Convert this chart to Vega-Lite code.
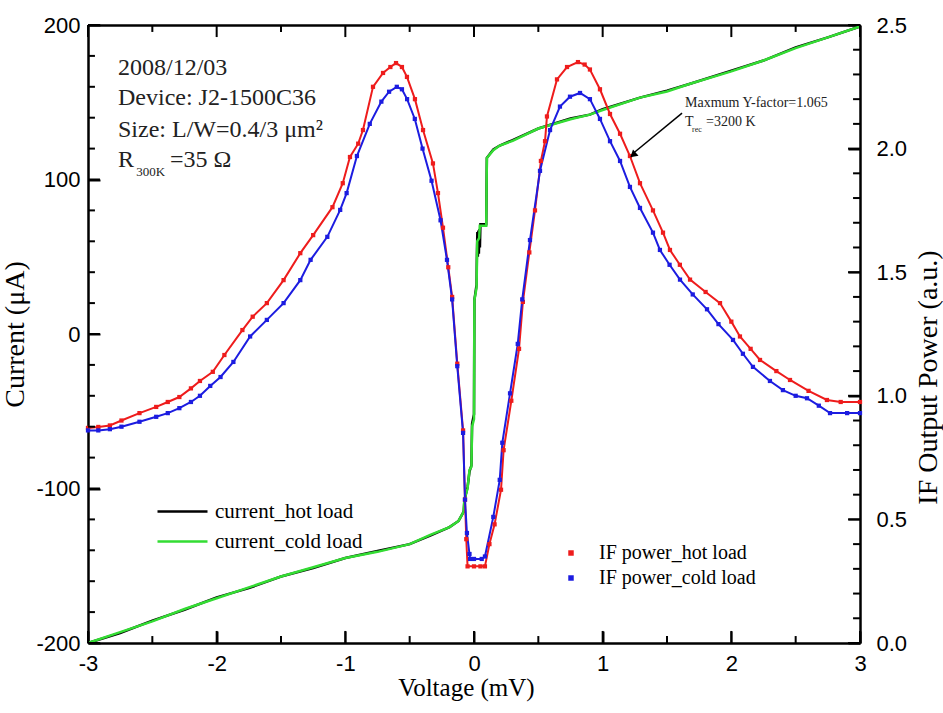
{
"$schema":"https://vega.github.io/schema/vega-lite/v6.json",
"width":772,"height":618,
"autosize":{"type":"none"},
"padding":{"left":88,"top":25,"right":83,"bottom":70},
"background":"white",
"config":{"view":{"stroke":null},
"axis":{"grid":false,"ticks":true,"domainColor":"black","domainWidth":2.5,"tickColor":"black","tickWidth":2,"labelFont":"Liberation Sans","labelFontSize":22,"labelColor":"black","labelFlush":false,"titleFont":"Liberation Serif","titleFontSize":26,"titleFontWeight":"normal","titleColor":"black"}},
"datasets":{
"iv":[
{"V":-3.0,"I":-200,"load":"current_hot load"},{"V":-2.75,"I":-193.5,"load":"current_hot load"},{"V":-2.5,"I":-185.5,"load":"current_hot load"},{"V":-2.25,"I":-178.5,"load":"current_hot load"},{"V":-2.0,"I":-170.5,"load":"current_hot load"},{"V":-1.75,"I":-164.5,"load":"current_hot load"},{"V":-1.5,"I":-157,"load":"current_hot load"},{"V":-1.25,"I":-151.5,"load":"current_hot load"},{"V":-1.0,"I":-145,"load":"current_hot load"},{"V":-0.75,"I":-140.5,"load":"current_hot load"},{"V":-0.5,"I":-136,"load":"current_hot load"},{"V":-0.34,"I":-130.5,"load":"current_hot load"},{"V":-0.19,"I":-125,"load":"current_hot load"},{"V":-0.12,"I":-121,"load":"current_hot load"},{"V":-0.08,"I":-115,"load":"current_hot load"},{"V":-0.075,"I":-108,"load":"current_hot load"},{"V":-0.05,"I":-99,"load":"current_hot load"},{"V":-0.035,"I":-89,"load":"current_hot load"},{"V":-0.02,"I":-85,"load":"current_hot load"},{"V":-0.015,"I":-58,"load":"current_hot load"},{"V":0.0,"I":-52,"load":"current_hot load"},{"V":0.003,"I":22,"load":"current_hot load"},{"V":0.02,"I":32,"load":"current_hot load"},{"V":0.022,"I":48,"load":"current_hot load"},{"V":0.026,"I":66,"load":"current_hot load"},{"V":0.03,"I":50,"load":"current_hot load"},{"V":0.034,"I":67,"load":"current_hot load"},{"V":0.038,"I":52,"load":"current_hot load"},{"V":0.042,"I":68,"load":"current_hot load"},{"V":0.046,"I":56,"load":"current_hot load"},{"V":0.05,"I":71,"load":"current_hot load"},{"V":0.095,"I":71,"load":"current_hot load"},{"V":0.1,"I":114,"load":"current_hot load"},{"V":0.15,"I":119.5,"load":"current_hot load"},{"V":0.2,"I":122,"load":"current_hot load"},{"V":0.3,"I":125.5,"load":"current_hot load"},{"V":0.5,"I":133,"load":"current_hot load"},{"V":0.75,"I":139.5,"load":"current_hot load"},{"V":0.9,"I":142,"load":"current_hot load"},{"V":1.0,"I":145.5,"load":"current_hot load"},{"V":1.29,"I":153,"load":"current_hot load"},{"V":1.5,"I":157.5,"load":"current_hot load"},{"V":1.68,"I":162,"load":"current_hot load"},{"V":2.0,"I":170.5,"load":"current_hot load"},{"V":2.25,"I":177,"load":"current_hot load"},{"V":2.5,"I":185.5,"load":"current_hot load"},{"V":2.75,"I":192,"load":"current_hot load"},{"V":3.0,"I":199,"load":"current_hot load"},
{"V":-3.0,"I":-200,"load":"current_cold load"},{"V":-2.75,"I":-193,"load":"current_cold load"},{"V":-2.5,"I":-186,"load":"current_cold load"},{"V":-2.25,"I":-178,"load":"current_cold load"},{"V":-2.0,"I":-171,"load":"current_cold load"},{"V":-1.75,"I":-164,"load":"current_cold load"},{"V":-1.5,"I":-157,"load":"current_cold load"},{"V":-1.25,"I":-151,"load":"current_cold load"},{"V":-1.0,"I":-145,"load":"current_cold load"},{"V":-0.75,"I":-141,"load":"current_cold load"},{"V":-0.5,"I":-136,"load":"current_cold load"},{"V":-0.34,"I":-130,"load":"current_cold load"},{"V":-0.19,"I":-125,"load":"current_cold load"},{"V":-0.12,"I":-121,"load":"current_cold load"},{"V":-0.08,"I":-115,"load":"current_cold load"},{"V":-0.075,"I":-107,"load":"current_cold load"},{"V":-0.05,"I":-100,"load":"current_cold load"},{"V":-0.035,"I":-88,"load":"current_cold load"},{"V":-0.02,"I":-86,"load":"current_cold load"},{"V":-0.015,"I":-60,"load":"current_cold load"},{"V":0.0,"I":-55,"load":"current_cold load"},{"V":0.003,"I":22,"load":"current_cold load"},{"V":0.02,"I":30,"load":"current_cold load"},{"V":0.025,"I":60,"load":"current_cold load"},{"V":0.04,"I":62,"load":"current_cold load"},{"V":0.045,"I":70,"load":"current_cold load"},{"V":0.095,"I":70,"load":"current_cold load"},{"V":0.1,"I":114,"load":"current_cold load"},{"V":0.15,"I":119,"load":"current_cold load"},{"V":0.2,"I":122,"load":"current_cold load"},{"V":0.3,"I":125,"load":"current_cold load"},{"V":0.5,"I":133,"load":"current_cold load"},{"V":0.75,"I":139,"load":"current_cold load"},{"V":0.9,"I":142,"load":"current_cold load"},{"V":1.0,"I":145,"load":"current_cold load"},{"V":1.29,"I":153,"load":"current_cold load"},{"V":1.5,"I":157,"load":"current_cold load"},{"V":1.68,"I":162,"load":"current_cold load"},{"V":2.0,"I":170,"load":"current_cold load"},{"V":2.25,"I":177,"load":"current_cold load"},{"V":2.5,"I":185,"load":"current_cold load"},{"V":2.75,"I":192,"load":"current_cold load"},{"V":3.0,"I":199,"load":"current_cold load"}
],
"pw":[
{"V":-3.0,"P":0.87,"load":"IF power_hot load"},{"V":-2.92,"P":0.874,"load":"IF power_hot load"},{"V":-2.83,"P":0.88,"load":"IF power_hot load"},{"V":-2.74,"P":0.9,"load":"IF power_hot load"},{"V":-2.6,"P":0.93,"load":"IF power_hot load"},{"V":-2.47,"P":0.955,"load":"IF power_hot load"},{"V":-2.38,"P":0.975,"load":"IF power_hot load"},{"V":-2.29,"P":0.995,"load":"IF power_hot load"},{"V":-2.2,"P":1.03,"load":"IF power_hot load"},{"V":-2.13,"P":1.06,"load":"IF power_hot load"},{"V":-2.03,"P":1.097,"load":"IF power_hot load"},{"V":-1.94,"P":1.165,"load":"IF power_hot load"},{"V":-1.8,"P":1.266,"load":"IF power_hot load"},{"V":-1.72,"P":1.32,"load":"IF power_hot load"},{"V":-1.61,"P":1.375,"load":"IF power_hot load"},{"V":-1.48,"P":1.468,"load":"IF power_hot load"},{"V":-1.35,"P":1.577,"load":"IF power_hot load"},{"V":-1.25,"P":1.65,"load":"IF power_hot load"},{"V":-1.1,"P":1.763,"load":"IF power_hot load"},{"V":-1.02,"P":1.86,"load":"IF power_hot load"},{"V":-0.964,"P":1.966,"load":"IF power_hot load"},{"V":-0.9,"P":2.02,"load":"IF power_hot load"},{"V":-0.863,"P":2.075,"load":"IF power_hot load"},{"V":-0.785,"P":2.25,"load":"IF power_hot load"},{"V":-0.707,"P":2.306,"load":"IF power_hot load"},{"V":-0.65,"P":2.33,"load":"IF power_hot load"},{"V":-0.606,"P":2.346,"load":"IF power_hot load"},{"V":-0.56,"P":2.33,"load":"IF power_hot load"},{"V":-0.521,"P":2.29,"load":"IF power_hot load"},{"V":-0.459,"P":2.2,"load":"IF power_hot load"},{"V":-0.396,"P":2.075,"load":"IF power_hot load"},{"V":-0.319,"P":1.94,"load":"IF power_hot load"},{"V":-0.28,"P":1.82,"load":"IF power_hot load"},{"V":-0.241,"P":1.68,"load":"IF power_hot load"},{"V":-0.2,"P":1.52,"load":"IF power_hot load"},{"V":-0.17,"P":1.4,"load":"IF power_hot load"},{"V":-0.13,"P":1.13,"load":"IF power_hot load"},{"V":-0.085,"P":0.86,"load":"IF power_hot load"},{"V":-0.07,"P":0.58,"load":"IF power_hot load"},{"V":-0.06,"P":0.42,"load":"IF power_hot load"},{"V":-0.05,"P":0.31,"load":"IF power_hot load"},{"V":0.0,"P":0.31,"load":"IF power_hot load"},{"V":0.05,"P":0.31,"load":"IF power_hot load"},{"V":0.085,"P":0.31,"load":"IF power_hot load"},{"V":0.12,"P":0.4,"load":"IF power_hot load"},{"V":0.16,"P":0.48,"load":"IF power_hot load"},{"V":0.21,"P":0.62,"load":"IF power_hot load"},{"V":0.23,"P":0.78,"load":"IF power_hot load"},{"V":0.29,"P":0.98,"load":"IF power_hot load"},{"V":0.35,"P":1.19,"load":"IF power_hot load"},{"V":0.38,"P":1.38,"load":"IF power_hot load"},{"V":0.43,"P":1.58,"load":"IF power_hot load"},{"V":0.474,"P":1.75,"load":"IF power_hot load"},{"V":0.52,"P":1.95,"load":"IF power_hot load"},{"V":0.552,"P":2.03,"load":"IF power_hot load"},{"V":0.567,"P":2.13,"load":"IF power_hot load"},{"V":0.645,"P":2.28,"load":"IF power_hot load"},{"V":0.723,"P":2.33,"load":"IF power_hot load"},{"V":0.808,"P":2.35,"load":"IF power_hot load"},{"V":0.86,"P":2.34,"load":"IF power_hot load"},{"V":0.901,"P":2.32,"load":"IF power_hot load"},{"V":0.979,"P":2.24,"load":"IF power_hot load"},{"V":1.057,"P":2.14,"load":"IF power_hot load"},{"V":1.135,"P":2.06,"load":"IF power_hot load"},{"V":1.212,"P":1.97,"load":"IF power_hot load"},{"V":1.29,"P":1.86,"load":"IF power_hot load"},{"V":1.391,"P":1.75,"load":"IF power_hot load"},{"V":1.469,"P":1.66,"load":"IF power_hot load"},{"V":1.523,"P":1.59,"load":"IF power_hot load"},{"V":1.6,"P":1.53,"load":"IF power_hot load"},{"V":1.679,"P":1.47,"load":"IF power_hot load"},{"V":1.8,"P":1.42,"load":"IF power_hot load"},{"V":1.912,"P":1.375,"load":"IF power_hot load"},{"V":2.0,"P":1.3,"load":"IF power_hot load"},{"V":2.067,"P":1.24,"load":"IF power_hot load"},{"V":2.15,"P":1.19,"load":"IF power_hot load"},{"V":2.223,"P":1.145,"load":"IF power_hot load"},{"V":2.35,"P":1.1,"load":"IF power_hot load"},{"V":2.456,"P":1.064,"load":"IF power_hot load"},{"V":2.6,"P":1.02,"load":"IF power_hot load"},{"V":2.743,"P":0.983,"load":"IF power_hot load"},{"V":2.85,"P":0.975,"load":"IF power_hot load"},{"V":3.0,"P":0.975,"load":"IF power_hot load"},
{"V":-3.0,"P":0.86,"load":"IF power_cold load"},{"V":-2.92,"P":0.86,"load":"IF power_cold load"},{"V":-2.83,"P":0.865,"load":"IF power_cold load"},{"V":-2.74,"P":0.875,"load":"IF power_cold load"},{"V":-2.6,"P":0.895,"load":"IF power_cold load"},{"V":-2.47,"P":0.915,"load":"IF power_cold load"},{"V":-2.38,"P":0.93,"load":"IF power_cold load"},{"V":-2.29,"P":0.95,"load":"IF power_cold load"},{"V":-2.2,"P":0.975,"load":"IF power_cold load"},{"V":-2.13,"P":1.0,"load":"IF power_cold load"},{"V":-2.05,"P":1.04,"load":"IF power_cold load"},{"V":-1.97,"P":1.076,"load":"IF power_cold load"},{"V":-1.87,"P":1.137,"load":"IF power_cold load"},{"V":-1.74,"P":1.24,"load":"IF power_cold load"},{"V":-1.61,"P":1.307,"load":"IF power_cold load"},{"V":-1.48,"P":1.375,"load":"IF power_cold load"},{"V":-1.35,"P":1.468,"load":"IF power_cold load"},{"V":-1.27,"P":1.55,"load":"IF power_cold load"},{"V":-1.14,"P":1.643,"load":"IF power_cold load"},{"V":-1.04,"P":1.752,"load":"IF power_cold load"},{"V":-0.99,"P":1.82,"load":"IF power_cold load"},{"V":-0.91,"P":1.97,"load":"IF power_cold load"},{"V":-0.81,"P":2.1,"load":"IF power_cold load"},{"V":-0.72,"P":2.19,"load":"IF power_cold load"},{"V":-0.66,"P":2.23,"load":"IF power_cold load"},{"V":-0.6,"P":2.25,"load":"IF power_cold load"},{"V":-0.56,"P":2.24,"load":"IF power_cold load"},{"V":-0.52,"P":2.2,"load":"IF power_cold load"},{"V":-0.46,"P":2.12,"load":"IF power_cold load"},{"V":-0.4,"P":2.0,"load":"IF power_cold load"},{"V":-0.33,"P":1.87,"load":"IF power_cold load"},{"V":-0.26,"P":1.71,"load":"IF power_cold load"},{"V":-0.21,"P":1.55,"load":"IF power_cold load"},{"V":-0.17,"P":1.39,"load":"IF power_cold load"},{"V":-0.13,"P":1.12,"load":"IF power_cold load"},{"V":-0.085,"P":0.85,"load":"IF power_cold load"},{"V":-0.07,"P":0.58,"load":"IF power_cold load"},{"V":-0.055,"P":0.445,"load":"IF power_cold load"},{"V":-0.035,"P":0.36,"load":"IF power_cold load"},{"V":-0.03,"P":0.34,"load":"IF power_cold load"},{"V":0.0,"P":0.34,"load":"IF power_cold load"},{"V":0.06,"P":0.34,"load":"IF power_cold load"},{"V":0.085,"P":0.35,"load":"IF power_cold load"},{"V":0.15,"P":0.51,"load":"IF power_cold load"},{"V":0.2,"P":0.66,"load":"IF power_cold load"},{"V":0.22,"P":0.81,"load":"IF power_cold load"},{"V":0.28,"P":1.01,"load":"IF power_cold load"},{"V":0.34,"P":1.21,"load":"IF power_cold load"},{"V":0.375,"P":1.39,"load":"IF power_cold load"},{"V":0.435,"P":1.63,"load":"IF power_cold load"},{"V":0.513,"P":1.91,"load":"IF power_cold load"},{"V":0.591,"P":2.075,"load":"IF power_cold load"},{"V":0.668,"P":2.17,"load":"IF power_cold load"},{"V":0.746,"P":2.21,"load":"IF power_cold load"},{"V":0.824,"P":2.225,"load":"IF power_cold load"},{"V":0.901,"P":2.2,"load":"IF power_cold load"},{"V":0.979,"P":2.12,"load":"IF power_cold load"},{"V":1.057,"P":2.03,"load":"IF power_cold load"},{"V":1.135,"P":1.95,"load":"IF power_cold load"},{"V":1.212,"P":1.845,"load":"IF power_cold load"},{"V":1.29,"P":1.76,"load":"IF power_cold load"},{"V":1.391,"P":1.66,"load":"IF power_cold load"},{"V":1.445,"P":1.59,"load":"IF power_cold load"},{"V":1.52,"P":1.53,"load":"IF power_cold load"},{"V":1.601,"P":1.47,"load":"IF power_cold load"},{"V":1.7,"P":1.41,"load":"IF power_cold load"},{"V":1.811,"P":1.35,"load":"IF power_cold load"},{"V":1.9,"P":1.29,"load":"IF power_cold load"},{"V":2.013,"P":1.226,"load":"IF power_cold load"},{"V":2.09,"P":1.17,"load":"IF power_cold load"},{"V":2.168,"P":1.117,"load":"IF power_cold load"},{"V":2.3,"P":1.06,"load":"IF power_cold load"},{"V":2.401,"P":1.023,"load":"IF power_cold load"},{"V":2.5,"P":1.0,"load":"IF power_cold load"},{"V":2.588,"P":0.99,"load":"IF power_cold load"},{"V":2.68,"P":0.96,"load":"IF power_cold load"},{"V":2.767,"P":0.93,"load":"IF power_cold load"},{"V":2.9,"P":0.93,"load":"IF power_cold load"},{"V":3.0,"P":0.93,"load":"IF power_cold load"}
],
"tickVmaj":[{"V":-3},{"V":-2},{"V":-1},{"V":0},{"V":1},{"V":2},{"V":3}],
"tickVmin":[{"V":-2.5},{"V":-1.5},{"V":-0.5},{"V":0.5},{"V":1.5},{"V":2.5}],
"tickImaj":[{"I":-200},{"I":-100},{"I":0},{"I":100},{"I":200}],
"tickImin":[{"I":-180},{"I":-160},{"I":-140},{"I":-120},{"I":-80},{"I":-60},{"I":-40},{"I":-20},{"I":20},{"I":40},{"I":60},{"I":80},{"I":120},{"I":140},{"I":160},{"I":180}],
"tickPmaj":[{"P":0},{"P":0.5},{"P":1},{"P":1.5},{"P":2},{"P":2.5}],
"tickPmin":[{"P":0.1},{"P":0.2},{"P":0.3},{"P":0.4},{"P":0.6},{"P":0.7},{"P":0.8},{"P":0.9},{"P":1.1},{"P":1.2},{"P":1.3},{"P":1.4},{"P":1.6},{"P":1.7},{"P":1.8},{"P":1.9},{"P":2.1},{"P":2.2},{"P":2.3},{"P":2.4}],
"info":[{"V":-2.767,"I":172,"text":"2008/12/03"},{"V":-2.767,"I":153,"text":"Device: J2-1500C36"},{"V":-2.767,"I":132,"text":"Size: L/W=0.4/3 μm²"},{"V":-2.767,"I":112.6,"text":"R"},{"V":-2.363,"I":112.6,"text":"=35 Ω"}],
"infosub":[{"V":-2.625,"I":105,"text":"300K"}],
"note":[{"V":1.64,"I":149.5,"text":"Maxmum Y-factor=1.065"},{"V":1.64,"I":137.2,"text":"T"},{"V":1.803,"I":137.2,"text":"=3200 K"}],
"notesub":[{"V":1.694,"I":132,"text":"rec"}],
"arrow":[{"V":1.617,"I":143.0,"V2":1.245,"I2":117.5}],
"head":[{"V":1.236,"I":115.9}]
},
"resolve":{"scale":{"y":"independent"},"axis":{"x":"independent","y":"independent"}},
"layer":[
{"data":{"name":"iv"},"transform":[{"filter":"datum.load=='current_hot load'"}],
"mark":{"type":"line","strokeWidth":2.5},
"encoding":{
"x":{"field":"V","type":"quantitative","scale":{"domain":[-3,3],"nice":false},"axis":{"orient":"bottom","offset":-12,"domain":false,"values":[-3,-2,-1,0,1,2,3],"labelExpr":"''+datum.value","tickSize":12,"labelPadding":10,"title":"Voltage (mV)","titleFontSize":25,"titlePadding":1,"titleX":378}},
"y":{"field":"I","type":"quantitative","scale":{"domain":[-200,200],"nice":false,"zero":false},"axis":{"orient":"left","offset":-12,"domain":false,"values":[-200,-100,0,100,200],"labelExpr":"''+datum.value","tickSize":12,"labelPadding":8,"title":"Current (μA)","titleFontSize":28,"titlePadding":6}},
"stroke":{"field":"load","type":"nominal","scale":{"domain":["current_hot load","current_cold load"],"range":["black","#33dd33"]},"legend":{"title":null,"orient":"none","legendX":83,"legendY":475,"symbolType":"M-2.5,0H2.5","symbolSize":400,"symbolStrokeWidth":2.5,"labelOffset":21,"labelFont":"Liberation Serif","labelFontSize":21,"labelColor":"black","rowPadding":8}}}},
{"data":{"name":"iv"},"transform":[{"filter":"datum.load=='current_cold load'"}],
"mark":{"type":"line","strokeWidth":2.5},
"encoding":{
"x":{"field":"V","type":"quantitative","scale":{"domain":[-3,3],"nice":false},"axis":null},
"y":{"field":"I","type":"quantitative","scale":{"domain":[-200,200],"nice":false,"zero":false},"axis":null},
"stroke":{"field":"load","type":"nominal"}}},
{"data":{"name":"pw"},"transform":[{"filter":"datum.load=='IF power_hot load'"}],
"mark":{"type":"line","strokeWidth":2,"color":"#ee1c1c"},
"encoding":{
"x":{"field":"V","type":"quantitative","scale":{"domain":[-3,3],"nice":false},"axis":null},
"y":{"field":"P","type":"quantitative","scale":{"domain":[0,2.5],"nice":false,"zero":false},"axis":{"orient":"right","offset":-12,"domain":false,"values":[0,0.5,1,1.5,2,2.5],"format":".1f","tickSize":12,"labelPadding":16,"title":"IF Output Power (a.u.)","titleFontSize":28,"titleAngle":270,"titleBaseline":"top","titleY":352,"titlePadding":8}}}},
{"data":{"name":"pw"},"transform":[{"filter":"datum.load=='IF power_cold load'"}],
"mark":{"type":"line","strokeWidth":2,"color":"#1c1ce0"},
"encoding":{
"x":{"field":"V","type":"quantitative","scale":{"domain":[-3,3],"nice":false},"axis":null},
"y":{"field":"P","type":"quantitative","scale":{"domain":[0,2.5],"nice":false,"zero":false},"axis":null}}},
{"data":{"name":"pw"},
"mark":{"type":"square","size":18,"opacity":1},
"encoding":{
"x":{"field":"V","type":"quantitative","scale":{"domain":[-3,3],"nice":false},"axis":null},
"y":{"field":"P","type":"quantitative","scale":{"domain":[0,2.5],"nice":false,"zero":false},"axis":null},
"fill":{"field":"load","type":"nominal","scale":{"domain":["IF power_hot load","IF power_cold load"],"range":["#ee1c1c","#1c1ce0"]},"legend":{"title":null,"orient":"none","legendX":473,"legendY":518,"symbolType":"square","symbolSize":30,"labelFont":"Liberation Serif","labelFontSize":20,"labelColor":"black","labelOffset":18,"rowPadding":5}}}},
{"data":{"name":"tickVmaj"},"mark":{"type":"rule","color":"black","strokeWidth":2},
"encoding":{"x":{"field":"V","type":"quantitative","scale":{"domain":[-3,3],"nice":false},"axis":{"orient":"bottom","ticks":false,"labels":false,"title":null,"domain":true}},"y":{"datum":-200,"type":"quantitative","scale":{"domain":[-200,200],"nice":false,"zero":false},"axis":{"orient":"left","ticks":false,"labels":false,"title":null,"domain":true}},"y2":{"datum":-192.2}}},
{"data":{"name":"tickVmaj"},"mark":{"type":"rule","color":"black","strokeWidth":2},
"encoding":{"x":{"field":"V","type":"quantitative","scale":{"domain":[-3,3],"nice":false},"axis":{"orient":"top","ticks":false,"labels":false,"title":null,"domain":true}},"y":{"datum":200,"type":"quantitative","scale":{"domain":[-200,200],"nice":false,"zero":false},"axis":{"orient":"right","ticks":false,"labels":false,"title":null,"domain":true}},"y2":{"datum":192.2}}},
{"data":{"name":"tickVmin"},"mark":{"type":"rule","color":"black","strokeWidth":2},
"encoding":{"x":{"field":"V","type":"quantitative","scale":{"domain":[-3,3],"nice":false},"axis":null},"y":{"datum":-200,"type":"quantitative","scale":{"domain":[-200,200],"nice":false,"zero":false},"axis":null},"y2":{"datum":-195.5}}},
{"data":{"name":"tickVmin"},"mark":{"type":"rule","color":"black","strokeWidth":2},
"encoding":{"x":{"field":"V","type":"quantitative","scale":{"domain":[-3,3],"nice":false},"axis":null},"y":{"datum":200,"type":"quantitative","scale":{"domain":[-200,200],"nice":false,"zero":false},"axis":null},"y2":{"datum":195.5}}},
{"data":{"name":"tickImaj"},"mark":{"type":"rule","color":"black","strokeWidth":2},
"encoding":{"x":{"datum":-3,"type":"quantitative","scale":{"domain":[-3,3],"nice":false},"axis":null},"x2":{"datum":-2.907},"y":{"field":"I","type":"quantitative","scale":{"domain":[-200,200],"nice":false,"zero":false},"axis":null}}},
{"data":{"name":"tickImin"},"mark":{"type":"rule","color":"black","strokeWidth":2},
"encoding":{"x":{"datum":-3,"type":"quantitative","scale":{"domain":[-3,3],"nice":false},"axis":null},"x2":{"datum":-2.946},"y":{"field":"I","type":"quantitative","scale":{"domain":[-200,200],"nice":false,"zero":false},"axis":null}}},
{"data":{"name":"tickPmaj"},"mark":{"type":"rule","color":"black","strokeWidth":2},
"encoding":{"x":{"datum":3,"type":"quantitative","scale":{"domain":[-3,3],"nice":false},"axis":null},"x2":{"datum":2.907},"y":{"field":"P","type":"quantitative","scale":{"domain":[0,2.5],"nice":false,"zero":false},"axis":null}}},
{"data":{"name":"tickPmin"},"mark":{"type":"rule","color":"black","strokeWidth":2},
"encoding":{"x":{"datum":3,"type":"quantitative","scale":{"domain":[-3,3],"nice":false},"axis":null},"x2":{"datum":2.946},"y":{"field":"P","type":"quantitative","scale":{"domain":[0,2.5],"nice":false,"zero":false},"axis":null}}},
{"data":{"name":"info"},"mark":{"type":"text","font":"Liberation Serif","fontSize":24,"align":"left","baseline":"middle","color":"#222"},
"encoding":{"x":{"field":"V","type":"quantitative","scale":{"domain":[-3,3],"nice":false},"axis":null},"y":{"field":"I","type":"quantitative","scale":{"domain":[-200,200],"nice":false,"zero":false},"axis":null},"text":{"field":"text"}}},
{"data":{"name":"infosub"},"mark":{"type":"text","font":"Liberation Serif","fontSize":13,"align":"left","baseline":"middle","color":"#222"},
"encoding":{"x":{"field":"V","type":"quantitative","scale":{"domain":[-3,3],"nice":false},"axis":null},"y":{"field":"I","type":"quantitative","scale":{"domain":[-200,200],"nice":false,"zero":false},"axis":null},"text":{"field":"text"}}},
{"data":{"name":"note"},"mark":{"type":"text","font":"Liberation Serif","fontSize":14,"align":"left","baseline":"middle","color":"#222"},
"encoding":{"x":{"field":"V","type":"quantitative","scale":{"domain":[-3,3],"nice":false},"axis":null},"y":{"field":"I","type":"quantitative","scale":{"domain":[-200,200],"nice":false,"zero":false},"axis":null},"text":{"field":"text"}}},
{"data":{"name":"notesub"},"mark":{"type":"text","font":"Liberation Serif","fontSize":8,"align":"left","baseline":"middle","color":"#222"},
"encoding":{"x":{"field":"V","type":"quantitative","scale":{"domain":[-3,3],"nice":false},"axis":null},"y":{"field":"I","type":"quantitative","scale":{"domain":[-200,200],"nice":false,"zero":false},"axis":null},"text":{"field":"text"}}},
{"data":{"name":"arrow"},"mark":{"type":"rule","color":"black","strokeWidth":1.5},
"encoding":{"x":{"field":"V","type":"quantitative","scale":{"domain":[-3,3],"nice":false},"axis":null},"y":{"field":"I","type":"quantitative","scale":{"domain":[-200,200],"nice":false,"zero":false},"axis":null},"x2":{"field":"V2"},"y2":{"field":"I2"}}},
{"data":{"name":"head"},"mark":{"type":"point","shape":"triangle-up","filled":true,"color":"black","size":70,"angle":229,"opacity":1},
"encoding":{"x":{"field":"V","type":"quantitative","scale":{"domain":[-3,3],"nice":false},"axis":null},"y":{"field":"I","type":"quantitative","scale":{"domain":[-200,200],"nice":false,"zero":false},"axis":null}}}
]
}
